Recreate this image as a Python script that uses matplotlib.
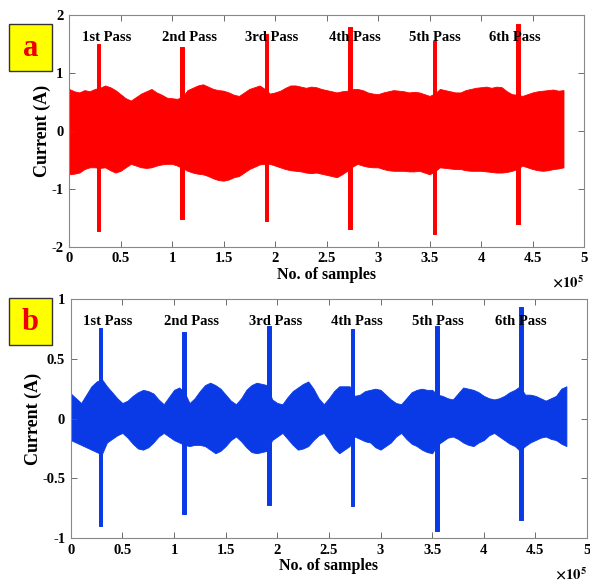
import numpy as np
import matplotlib.pyplot as plt
from matplotlib.patches import Rectangle

plt.rcParams['font.family'] = ['Liberation Serif', 'DejaVu Serif']
plt.rcParams['font.weight'] = 'bold'
plt.rcParams['mathtext.fontset'] = 'stix'

# envelope of the recorded current, sampled every 0.05e5 samples from 0 to 4.8e5
env_x = np.arange(0, 4.801, 0.05)
upper_a = [0.72, 0.68, 0.66, 0.70, 0.68, 0.72, 0.74, 0.78, 0.75, 0.70,
           0.63, 0.56, 0.52, 0.58, 0.64, 0.68, 0.72, 0.66, 0.62, 0.57,
           0.56, 0.55, 0.58, 0.70, 0.74, 0.78, 0.80, 0.76, 0.72, 0.70,
           0.69, 0.66, 0.62, 0.60, 0.66, 0.72, 0.75, 0.78, 0.72, 0.64,
           0.66, 0.69, 0.74, 0.78, 0.78, 0.76, 0.74, 0.76, 0.75, 0.72,
           0.70, 0.68, 0.66, 0.68, 0.69, 0.72, 0.72, 0.70, 0.66, 0.64,
           0.63, 0.66, 0.68, 0.70, 0.69, 0.68, 0.66, 0.67, 0.66, 0.63,
           0.60, 0.64, 0.72, 0.70, 0.68, 0.66, 0.66, 0.70, 0.72, 0.74,
           0.75, 0.76, 0.74, 0.76, 0.75, 0.68, 0.63, 0.62, 0.60, 0.63,
           0.66, 0.68, 0.69, 0.70, 0.71, 0.69, 0.70]
lower_a = [-0.75, -0.74, -0.72, -0.66, -0.63, -0.63, -0.64, -0.63, -0.68, -0.72,
           -0.69, -0.63, -0.57, -0.60, -0.63, -0.64, -0.63, -0.60, -0.58, -0.57,
           -0.57, -0.60, -0.64, -0.69, -0.72, -0.74, -0.75, -0.78, -0.82, -0.85,
           -0.86, -0.84, -0.80, -0.78, -0.72, -0.66, -0.62, -0.58, -0.57, -0.57,
           -0.60, -0.63, -0.66, -0.68, -0.69, -0.70, -0.72, -0.73, -0.72, -0.74,
           -0.76, -0.78, -0.80, -0.75, -0.69, -0.62, -0.57, -0.60, -0.62, -0.63,
           -0.63, -0.66, -0.68, -0.69, -0.69, -0.69, -0.70, -0.70, -0.69, -0.72,
           -0.75, -0.70, -0.63, -0.64, -0.65, -0.66, -0.66, -0.68, -0.69, -0.69,
           -0.69, -0.70, -0.71, -0.72, -0.72, -0.71, -0.69, -0.66, -0.60, -0.63,
           -0.66, -0.68, -0.69, -0.68, -0.66, -0.65, -0.63]
upper_b = [0.21, 0.17, 0.13, 0.20, 0.27, 0.31, 0.33, 0.27, 0.22, 0.17,
           0.13, 0.15, 0.19, 0.22, 0.24, 0.23, 0.21, 0.16, 0.12, 0.18,
           0.24, 0.26, 0.22, 0.13, 0.17, 0.23, 0.28, 0.30, 0.28, 0.25,
           0.20, 0.15, 0.12, 0.17, 0.24, 0.28, 0.30, 0.29, 0.28, 0.16,
           0.13, 0.12, 0.18, 0.23, 0.26, 0.29, 0.31, 0.25, 0.17, 0.12,
           0.17, 0.23, 0.27, 0.27, 0.27, 0.19, 0.20, 0.23, 0.24, 0.25,
           0.24, 0.20, 0.16, 0.13, 0.12, 0.17, 0.22, 0.24, 0.25, 0.24,
           0.24, 0.20, 0.19, 0.17, 0.16, 0.21, 0.26, 0.25, 0.24, 0.22,
           0.19, 0.17, 0.16, 0.17, 0.19, 0.22, 0.24, 0.27, 0.20, 0.20,
           0.19, 0.17, 0.15, 0.17, 0.19, 0.25, 0.27]
lower_b = [-0.18, -0.20, -0.22, -0.24, -0.26, -0.28, -0.30, -0.20, -0.17, -0.14,
           -0.12, -0.16, -0.21, -0.25, -0.26, -0.24, -0.20, -0.15, -0.12, -0.15,
           -0.18, -0.20, -0.22, -0.23, -0.22, -0.22, -0.23, -0.26, -0.29, -0.27,
           -0.23, -0.18, -0.15, -0.19, -0.24, -0.28, -0.29, -0.28, -0.27, -0.18,
           -0.15, -0.12, -0.17, -0.22, -0.26, -0.25, -0.23, -0.18, -0.14, -0.12,
           -0.18, -0.25, -0.29, -0.26, -0.23, -0.15, -0.17, -0.19, -0.20, -0.24,
           -0.26, -0.23, -0.20, -0.15, -0.12, -0.17, -0.21, -0.23, -0.26, -0.28,
           -0.29, -0.22, -0.19, -0.16, -0.15, -0.17, -0.20, -0.22, -0.23, -0.20,
           -0.18, -0.14, -0.12, -0.15, -0.18, -0.21, -0.23, -0.27, -0.23, -0.20,
           -0.18, -0.16, -0.15, -0.17, -0.18, -0.21, -0.23]

# current bursts at each tool pass (start position in 1e5 samples, peak values)
pass_names = ['1st Pass', '2nd Pass', '3rd Pass', '4th Pass', '5th Pass', '6th Pass']
spike_a = [0.27, 1.08, 1.90, 2.71, 3.53, 4.34]
spike_a_top = [1.49, 1.44, 1.67, 1.78, 1.55, 1.84]
spike_a_bot = [-1.72, -1.52, -1.55, -1.70, -1.78, -1.61]
spike_b = [0.27, 1.08, 1.90, 2.71, 3.53, 4.34]
spike_b_top = [0.76, 0.72, 0.77, 0.75, 0.77, 0.93]
spike_b_bot = [-0.90, -0.80, -0.72, -0.73, -0.94, -0.85]
label_a_x = [0.37, 1.17, 1.97, 2.77, 3.55, 4.33]
label_b_x = [0.36, 1.17, 1.98, 2.77, 3.56, 4.36]

fig = plt.figure(figsize=(5.9, 5.85), dpi=100)
ax_a = fig.add_axes([0.117, 0.578, 0.873, 0.397])
ax_b = fig.add_axes([0.120, 0.080, 0.875, 0.409])


def draw_panel(ax, up, lo, sx, stop, sbot, lx, ly, color, ylim, yticks):
    ax.fill_between(env_x * 1e5, lo, up, color=color, lw=0.6, edgecolor=color)
    for c, t, b in zip(sx, stop, sbot):
        ax.fill_between(np.array([c, c + 0.035]) * 1e5, [b, b], [t, t], color=color, lw=0.7,
                        edgecolor=color)
    for x, name in zip(lx, pass_names):
        ax.text(x * 1e5, ly, name, ha='center', va='center', fontsize=10.5, fontweight='bold')
    ax.set_xlim(0, 5e5)
    ax.set_ylim(*ylim)
    ax.set_xticks(np.arange(0, 5.01, 0.5) * 1e5)
    ax.set_xticklabels(['0', '0.5', '1', '1.5', '2', '2.5', '3', '3.5', '4', '4.5', '5'])
    ax.set_yticks(yticks)
    ax.set_yticklabels([('%g' % v) for v in yticks])
    ax.tick_params(direction='in', top=True, right=True, labelsize=10.5, length=4,
                   color='#555555', width=0.6, pad=4)
    for sp in ax.spines.values():
        sp.set_color('#888888')
        sp.set_linewidth(0.8)
    ax.set_xlabel('No. of samples', fontsize=11.5, fontweight='bold', labelpad=1)
    ax.set_ylabel('Current (A)', fontsize=13, fontweight='bold', labelpad=0)
    ax.text(1.0, -0.115, r'$\times 10^{5}$', transform=ax.transAxes, ha='right',
            va='top', fontsize=10.5)


draw_panel(ax_a, upper_a, lower_a, spike_a, spike_a_top, spike_a_bot,
           label_a_x, 1.6, '#ff0000', (-2, 2), [-2, -1, 0, 1, 2])
draw_panel(ax_b, upper_b, lower_b, spike_b, spike_b_top, spike_b_bot,
           label_b_x, 0.81, '#0a3ae6', (-1, 1), [-1, -0.5, 0, 0.5, 1])

# panel letters in yellow boxes
for letter, y0 in [('a', 1 - 71 / 585), ('b', 1 - 345 / 585)]:
    fig.patches.append(Rectangle((9 / 590, y0), 43 / 590, 47 / 585, transform=fig.transFigure,
                                 facecolor='#ffff00', edgecolor='#333333', lw=1.0))
    fig.text(30.5 / 590, y0 + 23 / 585, letter, ha='center', va='center', color='#ee0000',
             fontsize=22, fontweight='bold')

fig.savefig('out.png', dpi=100)
